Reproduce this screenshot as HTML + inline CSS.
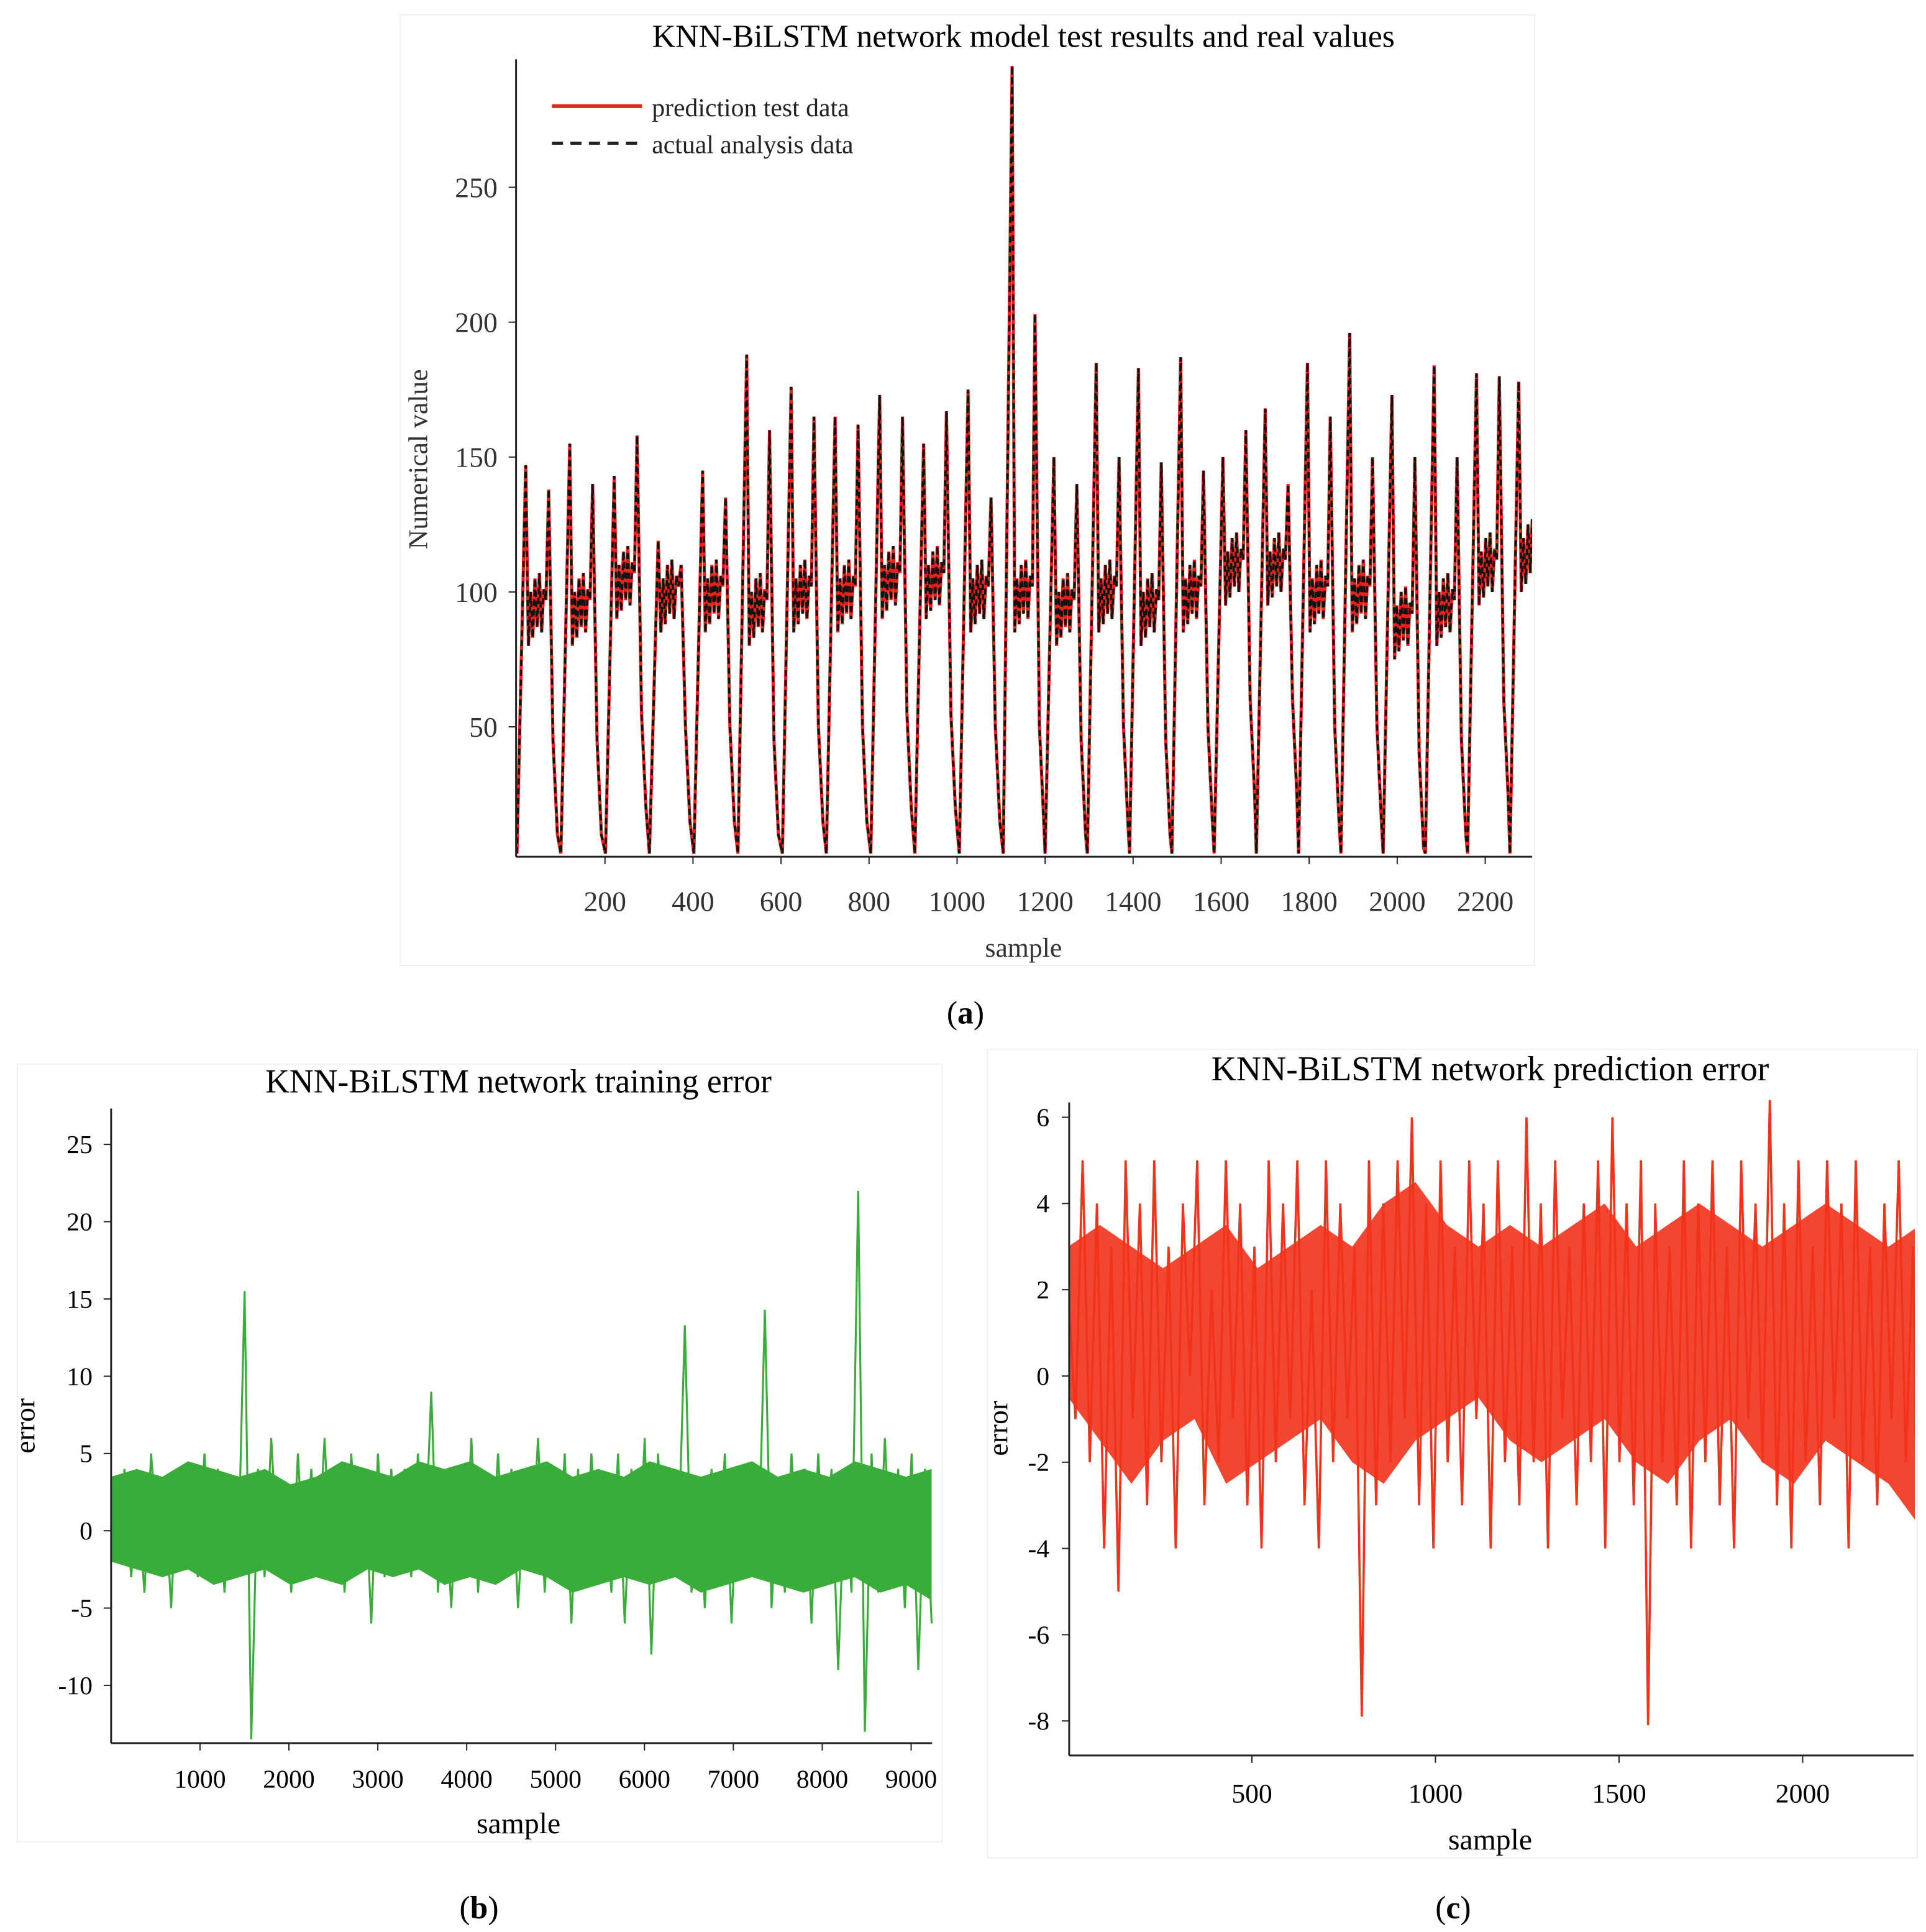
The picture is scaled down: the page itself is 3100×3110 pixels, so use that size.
<!DOCTYPE html>
<html><head><meta charset="utf-8"><style>
html,body{margin:0;padding:0;background:#fff;}
svg{display:block;font-family:"Liberation Serif",serif;}
</style></head><body>
<svg id="fig" width="3100" height="3110" viewBox="0 0 1560 1565" preserveAspectRatio="none" xmlns="http://www.w3.org/2000/svg">
<defs>
<clipPath id="clipA"><rect x="418" y="40" width="823" height="655"/></clipPath>
<clipPath id="clipC"><rect x="866" y="885" width="685" height="537"/></clipPath>
</defs>
<rect x="324" y="12" width="919" height="770" fill="#fff" stroke="#f0f0f0"/>
<rect x="14" y="862" width="749" height="630" fill="#fff" stroke="#f0f0f0"/>
<rect x="800" y="850" width="753" height="655" fill="#fff" stroke="#f0f0f0"/>
<g id="pa"></g>
<g id="pb"></g>
<g id="pc"></g>
<text x="829" y="38" font-size="26" text-anchor="middle">KNN-BiLSTM network model test results and real values</text>
<text x="829" y="775" font-size="22" text-anchor="middle" fill="#333">sample</text>
<text transform="translate(346,372) rotate(-90)" font-size="22" text-anchor="middle" fill="#333">Numerical value</text>
<text x="782" y="829" font-size="26" text-anchor="middle">(<tspan font-weight="bold">a</tspan>)</text>
<line x1="447" y1="86" x2="520" y2="86" stroke="#e8231c" stroke-width="3"/>
<text x="528" y="94" font-size="21" fill="#222">prediction test data</text>
<line x1="447" y1="116" x2="520" y2="116" stroke="#222" stroke-width="2.5" stroke-dasharray="9,6"/>
<text x="528" y="124" font-size="21" fill="#222">actual analysis data</text>
<text x="420" y="885" font-size="27" text-anchor="middle">KNN-BiLSTM network training error</text>
<text x="420" y="1485" font-size="24" text-anchor="middle">sample</text>
<text transform="translate(28,1155) rotate(-90)" font-size="23" text-anchor="middle">error</text>
<text x="388" y="1554" font-size="26" text-anchor="middle">(<tspan font-weight="bold">b</tspan>)</text>
<text x="1207" y="875" font-size="28" text-anchor="middle">KNN-BiLSTM network prediction error</text>
<text x="1207" y="1498" font-size="24" text-anchor="middle">sample</text>
<text transform="translate(816,1157) rotate(-90)" font-size="23" text-anchor="middle">error</text>
<text x="1177" y="1554" font-size="26" text-anchor="middle">(<tspan font-weight="bold">c</tspan>)</text>
</svg>
<script>
// ---- Panel A data ----
const aCycleStart=[0,100,201,301,402,502,603,703,804,904,1005,1105,1200,1296,1392,1488,1584,1680,1776,1872,1968,2064,2160,2256];
const aPeak1=[147,155,143,119,145,188,176,165,173,155,175,295,150,185,183,187,150,168,185,196,173,184,181,178];
const aPeak2=[138,140,158,110,135,160,165,162,165,167,135,203,140,150,148,145,160,140,165,150,150,150,180,135];
const aPlateau=[95,95,105,100,100,95,100,100,105,105,100,100,95,100,95,100,110,110,100,100,90,95,110,115];
const aTemplatePos=[0,20,26,31,36,41,46,51,56,61,66,72,82,92];
const aTemplateRel=[0,1,-15,5,-12,10,-8,12,-10,6,2,1,-50,-85];
const aTrough=3;
// ---- Panel B data ----
const bUpper=[3.5,4,3.5,4.5,4,3.5,4,3,3.5,4.5,4,3.5,4.5,4,4.5,3.5,4,4.5,3.5,4,3.5,4.5,4,3.5,4,4.5,3.5,4,3.5,4.5,4,3.5,4];
const bLower=[-2,-2.5,-3,-2.5,-3.5,-3,-2.5,-3.5,-3,-3.5,-2.5,-3,-2.5,-3.5,-3,-3.5,-2.5,-3,-4,-3.5,-3,-3.5,-3,-4,-3.5,-3,-3.5,-4,-3.5,-3,-4,-3.5,-4.5];
const bValues=[3,-2,4,-3,2,-4,5,-1,3,-5,4,-2,3,-3,5,-2,4,-4,2,-3,15.5,-13.5,4,-3,6,-2,3,-4,5,-3,4,-2,6,-3,3,-4,5,-2,4,-6,5,-3,4,-2,4,-3,5,-2,9,-4,3,-5,4,-3,6,-4,3,-2,5,-3,4,-5,3,-2,6,-4,4,-3,5,-6,4,-3,5,-2,3,-4,5,-6,4,-3,6,-8,5,-3,4,-2,13.3,-4,3,-5,4,-3,5,-6,4,-2,4,-3,14.3,-5,3,-4,5,-3,4,-6,5,-3,4,-9,3,-4,22,-13,5,-4,6,-3,4,-5,5,-9,4,-6];
const bTicksX=[1000,2000,3000,4000,5000,6000,7000,8000,9000];
const bTicksY=[25,20,15,10,5,0,-5,-10];
// ---- Panel C data ----
const cUpper=[3,3.5,3,2.5,3,3.5,2.5,3,3.5,3,4,4.5,3.5,3,3.5,3,3.5,4,3,3.5,4,3.5,3,3.5,4,3.5,3,3.5];
const cLower=[-0.5,-1.5,-2.5,-1.5,-1,-2.5,-2,-1.5,-1,-2,-2.5,-1.5,-1,-0.5,-1.5,-2,-1.5,-1,-2,-2.5,-1.5,-1,-2,-2.5,-1.5,-2,-2.5,-3.5];
const cValues=[2,-1,5,-2,4,-4,3,-5,5,-1,4,-3,5,-2,3,-4,4,0,5,-3,2,-2,5,-1,4,-3,3,-4,5,-2,4,-1,5,-3,2,-4,5,-2,4,-1,3,-7.9,5,-3,4,-2,5,-1,6,-3,4,-4,5,-2,3,-3,5,-1,4,-4,5,-2,3,-3,6,-2,4,-4,5,-1,3,-3,4,-2,5,-4,6,-2,4,-3,5,-8.1,4,-2,3,-3,5,-4,4,-2,5,-3,3,-4,5,-1,4,-2,6.4,-3,4,-4,5,-2,3,-3,5,-1,4,-4,5,-2,3,-3,4,-1,5,-2,3,-8];
const cTicksX=[500,1000,1500,2000];
const cTicksY=[6,4,2,0,-2,-4,-6,-8];
const aTicksX=[200,400,600,800,1000,1200,1400,1600,1800,2000,2200];
const aTicksY=[50,100,150,200,250];

const NS="http://www.w3.org/2000/svg";
function mk(parent,tag,attrs){const e=document.createElementNS(NS,tag);for(const k in attrs)e.setAttribute(k,attrs[k]);parent.appendChild(e);return e;}
function band(up,lo,maxX,ax){const su=maxX/(up.length-1),sl=maxX/(lo.length-1);
 const a=up.map((v,i)=>ax.x(i*su).toFixed(1)+','+ax.y(v).toFixed(1));
 const b=lo.map((v,i)=>ax.x(i*sl).toFixed(1)+','+ax.y(v).toFixed(1)).reverse();
 return a.concat(b).join(' ');}

// Panel A
const pa=document.getElementById('pa');
const axA={x:s=>418.7+s*71.3/200,y:v=>698-v*109.25/50};
const aPts=[];
aCycleStart.forEach((s,i)=>{aTemplatePos.forEach((p,j)=>{let v;
 if(j===0)v=aTrough;else if(j===1)v=aPeak1[i];else if(j===11)v=aPeak2[i];else v=aPlateau[i]+aTemplateRel[j];
 aPts.push([s+p,v]);});});
const aStr=aPts.map(p=>axA.x(p[0]).toFixed(1)+','+axA.y(p[1]).toFixed(1)).join(' ');
const ga=mk(pa,'g',{'clip-path':'url(#clipA)'});
let l=mk(ga,'polyline',{points:aStr,fill:'none',stroke:'#e8231c','stroke-width':2.6});


l=mk(ga,'polyline',{points:aStr,fill:'none',stroke:'#111','stroke-width':1.8,'stroke-dasharray':'5,3'});


mk(pa,'line',{x1:418,y1:48,x2:418,y2:694,stroke:'#222','stroke-width':1.5});
mk(pa,'line',{x1:418,y1:694,x2:1241,y2:694,stroke:'#222','stroke-width':1.5});
aTicksX.forEach(t=>{const x=axA.x(t);mk(pa,'line',{x1:x,y1:694,x2:x,y2:700,stroke:'#222'});
 const tx=mk(pa,'text',{x:x,y:738,'font-size':23,'text-anchor':'middle',fill:'#333'});tx.textContent=t;
 
 });
aTicksY.forEach(t=>{const y=axA.y(t);mk(pa,'line',{x1:412,y1:y,x2:418,y2:y,stroke:'#222'});
 const tx=mk(pa,'text',{x:403,y:y+8,'font-size':23,'text-anchor':'end',fill:'#333'});tx.textContent=t;
 
 });

// Panel B
const pb=document.getElementById('pb');
const axB={x:s=>90+s*72/1000,y:v=>1240-v*62.6/5};
l=mk(pb,'polygon',{points:band(bUpper,bLower,9230,axB),fill:'#3aac3a'});


const bStep=9230/(bValues.length-1);
const bStr=bValues.map((v,i)=>axB.x(i*bStep).toFixed(1)+','+axB.y(v).toFixed(1)).join(' ');
l=mk(pb,'polyline',{points:bStr,fill:'none',stroke:'#3aac3a','stroke-width':1.6});


mk(pb,'line',{x1:90,y1:898,x2:90,y2:1412,stroke:'#222','stroke-width':1.5});
mk(pb,'line',{x1:90,y1:1412,x2:755,y2:1412,stroke:'#222','stroke-width':1.5});
bTicksX.forEach(t=>{const x=axB.x(t);mk(pb,'line',{x1:x,y1:1412,x2:x,y2:1418,stroke:'#222'});
 const tx=mk(pb,'text',{x:x,y:1448,'font-size':21,'text-anchor':'middle'});tx.textContent=t;
 
 });
bTicksY.forEach(t=>{const y=axB.y(t);mk(pb,'line',{x1:84,y1:y,x2:90,y2:y,stroke:'#222'});
 const tx=mk(pb,'text',{x:75,y:y+7,'font-size':21,'text-anchor':'end'});tx.textContent=t;
 
 });

// Panel C
const pc=document.getElementById('pc');
const axC={x:s=>865.3+s*148.7/500,y:v=>1114.6-v*69.86/2};
const gc=mk(pc,'g',{'clip-path':'url(#clipC)'});
l=mk(gc,'polygon',{points:band(cUpper,cLower,2320,axC),fill:'#f2321a','fill-opacity':0.9});


const cStep=2320/(cValues.length-1);
const cStr=cValues.map((v,i)=>axC.x(i*cStep).toFixed(1)+','+axC.y(v).toFixed(1)).join(' ');
l=mk(gc,'polyline',{points:cStr,fill:'none',stroke:'#f2321a','stroke-width':1.8});


mk(pc,'line',{x1:866,y1:893,x2:866,y2:1422,stroke:'#222','stroke-width':1.5});
mk(pc,'line',{x1:866,y1:1422,x2:1550,y2:1422,stroke:'#222','stroke-width':1.5});
cTicksX.forEach(t=>{const x=axC.x(t);mk(pc,'line',{x1:x,y1:1422,x2:x,y2:1428,stroke:'#222'});
 const tx=mk(pc,'text',{x:x,y:1460,'font-size':22,'text-anchor':'middle'});tx.textContent=t;
 
 });
cTicksY.forEach(t=>{const y=axC.y(t);mk(pc,'line',{x1:860,y1:y,x2:866,y2:y,stroke:'#222'});
 const tx=mk(pc,'text',{x:850,y:y+7,'font-size':21,'text-anchor':'end'});tx.textContent=t;
 
 });
</script>
</body></html>
